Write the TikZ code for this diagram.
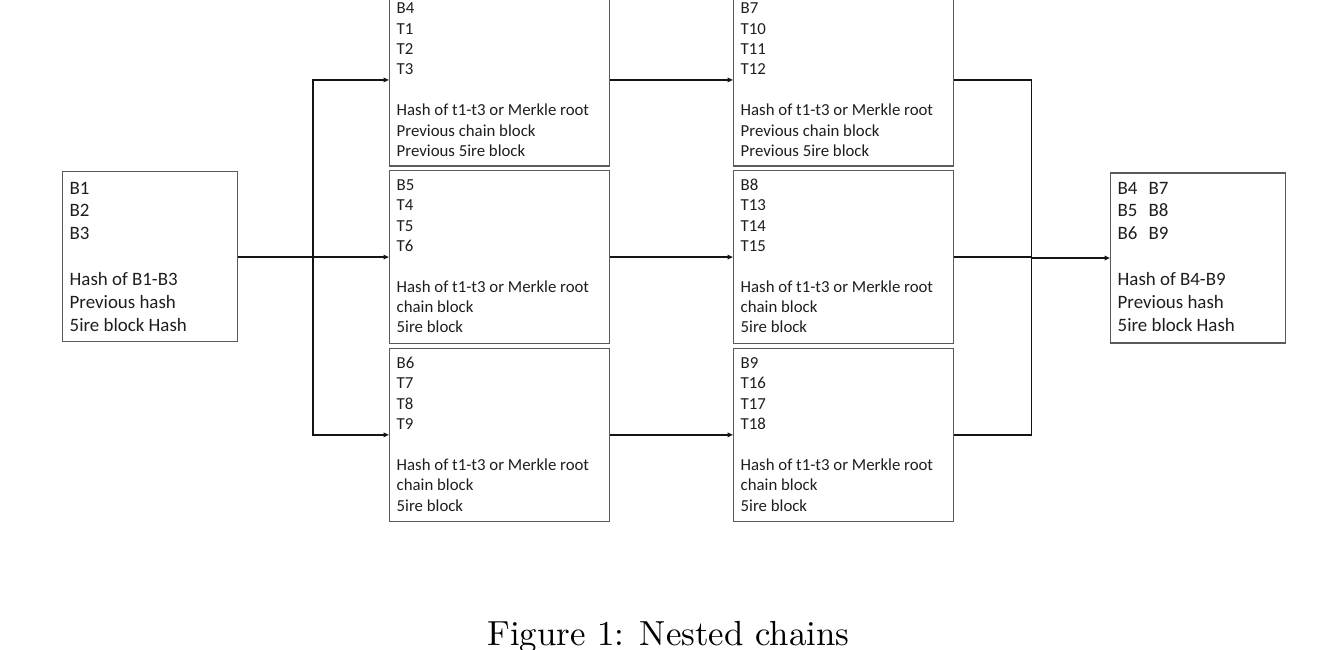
\documentclass[tikz,border=0pt]{standalone}
\usepackage{fontspec}
\newfontfamily\calfont{Carlito}
\usetikzlibrary{arrows.meta}
\definecolor{boxgray}{HTML}{5A5A5A}
\definecolor{txtgray}{HTML}{1E1E1E}
\definecolor{linegray}{HTML}{141414}
\newcommand{\blockpar}[5]{\parbox[t][#2][t]{#1}{\raggedright\setlength{\leftskip}{#4}\setlength{\parindent}{0pt}\rule{0pt}{#3}#5}}
\tikzset{
  blk/.style={draw=boxgray, line width=1.4pt, inner sep=0pt, anchor=north west, text=txtgray},
  midfont/.style={font=\calfont\fontsize{16.8}{20.4}\selectfont},
  endfont/.style={font=\calfont\fontsize{18.9}{22.9}\selectfont},
  conn/.style={draw=linegray, line width=1.6pt},
  arr/.style={conn, -{Triangle[length=5.5pt,width=4.5pt]}}
}
\begin{document}
\begin{tikzpicture}[x=1pt,y=-1pt]
\useasboundingbox (0,0) rectangle (1344,650);
\fill[white] (0,0) rectangle (1344,650);
\clip (0,0) rectangle (1344,650);
% left block
\node[blk, endfont] (L) at (62,171) {\blockpar{175pt}{170pt}{22.3pt}{7pt}{B1\\B2\\B3\\[\baselineskip]Hash of B1-B3\\Previous hash\\5ire block Hash}};
% column 1
\node[blk, midfont] (A1) at (389,-7) {\blockpar{220pt}{172.5pt}{20pt}{7pt}{B4\\T1\\T2\\T3\\[\baselineskip]Hash of t1-t3 or Merkle root\\Previous chain block\\Previous 5ire block}};
\node[blk, midfont] (A2) at (389,170) {\blockpar{220pt}{172.7pt}{19.5pt}{7pt}{B5\\T4\\T5\\T6\\[\baselineskip]Hash of t1-t3 or Merkle root\\chain block\\5ire block}};
\node[blk, midfont] (A3) at (389,347.8) {\blockpar{220pt}{172.7pt}{20pt}{7pt}{B6\\T7\\T8\\T9\\[\baselineskip]Hash of t1-t3 or Merkle root\\chain block\\5ire block}};
% column 2
\node[blk, midfont] (B1) at (733,-7) {\blockpar{219.5pt}{172.5pt}{20pt}{7pt}{B7\\T10\\T11\\T12\\[\baselineskip]Hash of t1-t3 or Merkle root\\Previous chain block\\Previous 5ire block}};
\node[blk, midfont] (B2) at (733,170) {\blockpar{219.5pt}{172.7pt}{19.5pt}{7pt}{B8\\T13\\T14\\T15\\[\baselineskip]Hash of t1-t3 or Merkle root\\chain block\\5ire block}};
\node[blk, midfont] (B3) at (733,347.8) {\blockpar{219.5pt}{172.7pt}{20pt}{7pt}{B9\\T16\\T17\\T18\\[\baselineskip]Hash of t1-t3 or Merkle root\\chain block\\5ire block}};
% right block
\node[blk, endfont] (R) at (1110,172.3) {\blockpar{175pt}{170pt}{21pt}{7pt}{B4\hspace{11pt}B7\\B5\hspace{11pt}B8\\B6\hspace{11pt}B9\\[\baselineskip]Hash of B4-B9\\Previous hash\\5ire block Hash}};
% caption
\node[anchor=base, inner sep=0pt] (cap) at (668.3,645) {\scalebox{3.485}{Figure 1: Nested chains}};
% junctions
\coordinate (jlx) at (313,0);
\coordinate (jl) at (L.east -| jlx);
\coordinate (jrx) at (1031.5,0);
\coordinate (jr) at (R.west -| jrx);
% connectors left side
\draw[conn] (L.east) -- (jl);
\draw[arr] (jl) |- (A1.west);
\draw[arr] (jl) -- (A2.west -| jl) -- (A2.west);
\draw[arr] (jl) |- (A3.west);
% between columns
\draw[arr] (A1.east) -- (B1.west);
\draw[arr] (A2.east) -- (B2.west);
\draw[arr] (A3.east) -- (B3.west);
% right side
\draw[conn] (B1.east) -| (jr);
\draw[conn] (B3.east) -| (jr);
\draw[conn] (B2.east) -- (B2.east -| jr);
\draw[arr] (jr) -- (R.west);
\end{tikzpicture}
\end{document}
